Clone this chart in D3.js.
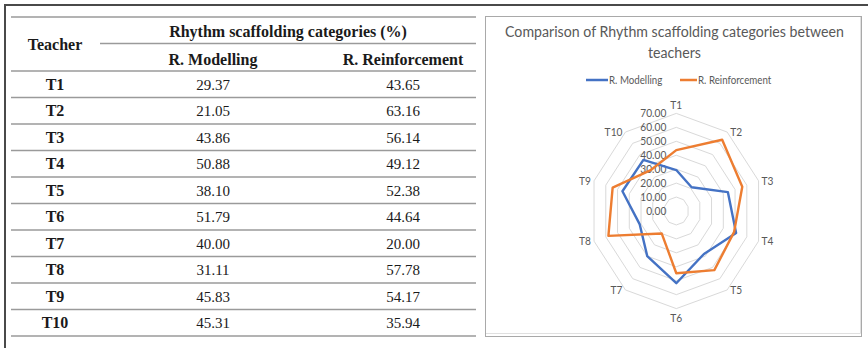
<!DOCTYPE html>
<html>
<head>
<meta charset="utf-8">
<script src="https://cdn.jsdelivr.net/npm/d3@7"></script>
<style>
  html, body { margin: 0; padding: 0; background: #fff; }
  svg { display: block; }
</style>
</head>
<body>
<svg id="fig" width="868" height="348"></svg>
<script>
// ---- data ----
const teachers = ["T1", "T2", "T3", "T4", "T5", "T6", "T7", "T8", "T9", "T10"];
const modelling = [29.37, 21.05, 43.86, 50.88, 38.10, 51.79, 40.00, 31.11, 45.83, 45.31];
const reinforcement = [43.65, 63.16, 56.14, 49.12, 52.38, 44.64, 20.00, 57.78, 54.17, 35.94];
const seriesNames = ["R. Modelling", "R. Reinforcement"];
const seriesColors = ["#4472C4", "#ED7D31"];
const radialTicks = [0, 10, 20, 30, 40, 50, 60, 70];
const teacherHeader = "Teacher";
const groupHeader = "Rhythm scaffolding categories (%)";
const chartTitle = ["Comparison of Rhythm scaffolding categories between", "teachers"];

const svg = d3.select("#fig");
const fmt = d3.format(".2f");

// ---- outer frame (top and left edges) ----
svg.append("path")
  .attr("d", "M5,348 L5,5 L868,5")
  .attr("fill", "none").attr("stroke", "#4a4a4a").attr("stroke-width", 2);

// ---- table ----
const table = svg.append("g").attr("font-family", "'Liberation Serif', 'Times New Roman', serif").attr("fill", "#1a1a1a");
const tLeft = 11, tRight = 476;
const rowY = d3.scaleBand().domain(teachers).range([71, 336]);
const colX = d3.scaleOrdinal().domain(["teacher", "m", "r"]).range([55, 213, 403]);
const rule = "#9a9a9a";

// horizontal rules
const ruleYs = [17, 71].concat(teachers.map(t => rowY(t) + rowY.bandwidth()));
table.selectAll("line.rule").data(ruleYs).join("line")
  .attr("class", "rule")
  .attr("x1", tLeft).attr("x2", tRight)
  .attr("y1", d => d).attr("y2", d => d)
  .attr("stroke", rule).attr("stroke-width", 1.4);
table.append("line")
  .attr("x1", 100).attr("x2", tRight).attr("y1", 43.5).attr("y2", 43.5)
  .attr("stroke", rule).attr("stroke-width", 1.4);

// header texts
const hdr = table.append("g").attr("font-weight", "bold").attr("font-size", 16).attr("text-anchor", "middle");
hdr.append("text").attr("x", colX("teacher")).attr("y", 49.5).text(teacherHeader);
hdr.append("text").attr("x", 288).attr("y", 36.5).text(groupHeader);
hdr.append("text").attr("x", colX("m")).attr("y", 64.5).text(seriesNames[0]);
hdr.append("text").attr("x", colX("r")).attr("y", 64.5).text(seriesNames[1]);

// body rows
const rows = table.selectAll("g.row").data(teachers).join("g")
  .attr("class", "row")
  .attr("transform", t => `translate(0,${rowY(t) + rowY.bandwidth() / 2 + 5.7})`)
  .attr("text-anchor", "middle");
rows.append("text").attr("x", colX("teacher")).attr("font-weight", "bold").attr("font-size", 16).text(t => t);
rows.append("text").attr("x", colX("m")).attr("font-size", 15).text((t, i) => fmt(modelling[i]));
rows.append("text").attr("x", colX("r")).attr("font-size", 15).text((t, i) => fmt(reinforcement[i]));

// ---- radar chart panel ----
const panel = svg.append("g");
panel.append("rect").attr("x", 485.5).attr("y", 16.5).attr("width", 376).attr("height", 320)
  .attr("fill", "#fff").attr("stroke", "#a9a9a9").attr("stroke-width", 1);
panel.append("path").attr("d", "M860.5,17 L860.5,333.5 L486,333.5")
  .attr("fill", "none").attr("stroke", "#e0e0e0").attr("stroke-width", 1);

const SX = 0.886; // horizontal squeeze of the chart panel
const chartFont = "Lato, 'Open Sans', sans-serif";
const txtColor = "#595959";
function ctext(g, x, y, str, size, anchor) {
  return g.append("text")
    .attr("transform", `translate(${x},${y}) scale(${SX},1)`)
    .attr("font-family", chartFont).attr("font-size", size)
    .attr("fill", txtColor).attr("text-anchor", anchor || "middle")
    .text(str);
}

// title
ctext(panel, 674.5, 37, chartTitle[0], 16);
ctext(panel, 674.5, 57.5, chartTitle[1], 16);

// legend
const legendItems = [
  { name: seriesNames[0], color: seriesColors[0], x0: 586, x1: 608 },
  { name: seriesNames[1], color: seriesColors[1], x0: 680, x1: 697 }
];
legendItems.forEach(d => {
  panel.append("line").attr("x1", d.x0).attr("x2", d.x1).attr("y1", 80).attr("y2", 80)
    .attr("stroke", d.color).attr("stroke-width", 2.5);
  ctext(panel, d.x1 + 1, 83.6, d.name, 11, "start");
});

// radar geometry
const cx = 676.3, cy = 211;
const rX = d3.scaleLinear().domain([0, 70]).range([0, 86.5]);
const rY = d3.scaleLinear().domain([0, 70]).range([0, 97.6]);
const angle = d3.scaleLinear().domain([0, teachers.length]).range([0, 2 * Math.PI]);
const px = (i, v) => cx + rX(v) * Math.sin(angle(i));
const py = (i, v) => cy - rY(v) * Math.cos(angle(i));
const closed = d3.line().x(d => d[0]).y(d => d[1]).curve(d3.curveLinearClosed);

// grid rings
const rings = radialTicks.filter(v => v > 0);
panel.selectAll("path.ring").data(rings).join("path")
  .attr("class", "ring")
  .attr("d", v => closed(teachers.map((t, i) => [px(i, v), py(i, v)])))
  .attr("fill", "none").attr("stroke", "#d9d9d9").attr("stroke-width", 1);

// value axis labels
radialTicks.forEach(v => {
  ctext(panel, cx - 10, cy - rY(v) + 4, fmt(v), 11.5, "end");
});

// category labels
const outer = 70;
teachers.forEach((t, i) => {
  const a = angle(i);
  const x = px(i, outer), y = py(i, outer);
  const s = Math.sin(a), c = Math.cos(a);
  let anchor = "middle", lx = x, ly = y + 4;
  if (Math.abs(s) < 0.1) {
    ly = c > 0 ? y - 4.5 : y + 13;
  } else {
    anchor = s > 0 ? "start" : "end";
    lx = x + (s > 0 ? 3 : -3);
  }
  ctext(panel, lx, ly, t, 11.5, anchor);
});

// series polygons
[modelling, reinforcement].forEach((vals, k) => {
  panel.append("path")
    .attr("d", closed(vals.map((v, i) => [px(i, v), py(i, v)])))
    .attr("fill", "none").attr("stroke", seriesColors[k])
    .attr("stroke-width", 2.4).attr("stroke-linejoin", "round");
});
</script>
</body>
</html>
